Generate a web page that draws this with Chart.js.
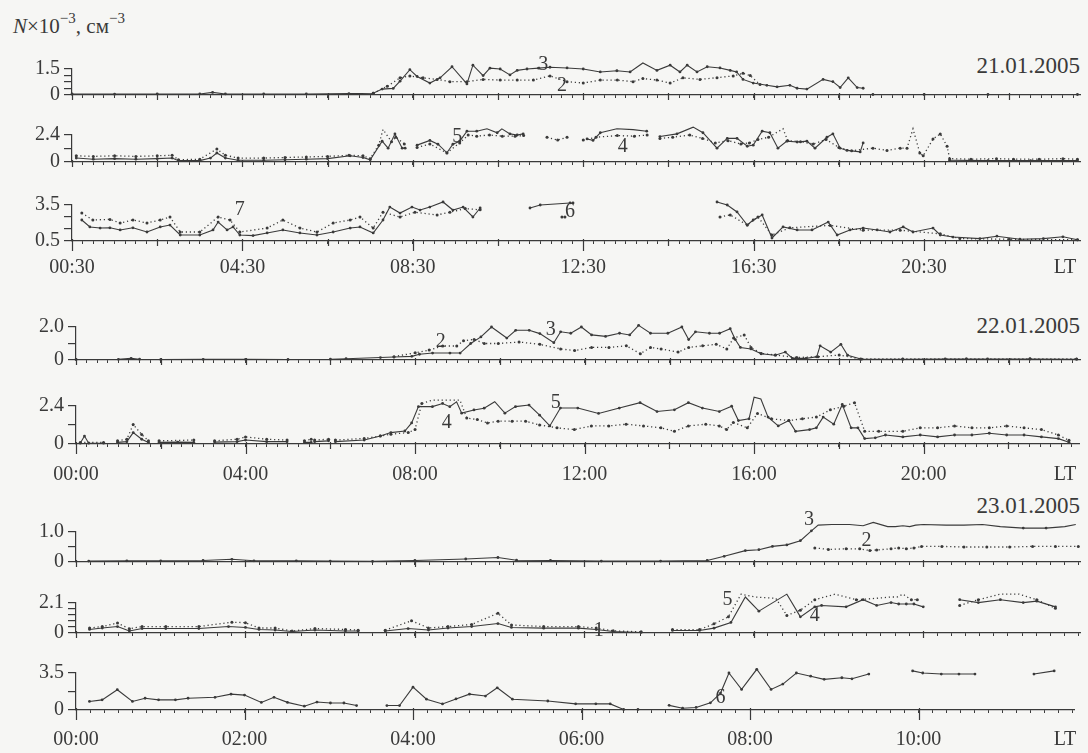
<!DOCTYPE html>
<html>
<head>
<meta charset="utf-8">
<title>N x 10^-3 cm^-3, 21-23.01.2005</title>
<script src="https://cdn.jsdelivr.net/npm/chart.js@4.4.1/dist/chart.umd.min.js"></script>
<style>
  body{margin:0;width:1088px;height:753px;overflow:hidden;position:relative;background:#f6f6f4;
       font-family:"Liberation Serif","DejaVu Serif",serif;color:#3a3a3a;}
  canvas{position:absolute;left:0;}
  .lbl{position:absolute;white-space:nowrap;line-height:1;}
  .date{right:8px;font-size:23px;}
  .sup{position:relative;top:-10px;font-size:15px;}
</style>
</head>
<body>
<div class="lbl" style="left:13px;top:16px;font-size:21px"><i>N</i>×10<span class="sup">−3</span>, см<span class="sup">−3</span></div>
<div class="lbl date" style="top:54px">21.01.2005</div>
<div class="lbl date" style="top:314px">22.01.2005</div>
<div class="lbl date" style="top:494px">23.01.2005</div>
<script>
const ink = '#3a3a3a';
const serif = '"Liberation Serif","DejaVu Serif",serif';

// ---------- 21.01.2005 (hours LT) ----------
const g1aT3 = [0.5,1.5,2.5,3.5,3.8,4.1,5,6,7,7.57,7.78,8.04,8.2,8.43,8.6,8.9,9.14,9.42,9.77,9.91,10.15,10.31,10.55,10.78,10.95,11.18,11.45,11.72,12.12,12.5,12.9,13.29,13.6,13.9,14.23,14.54,14.77,14.94,15.17,15.41,15.71,15.95,16.1,16.25,16.49,16.81,17.05,17.35,17.52,17.75,18.13,18.36,18.53,18.72,18.93,19.07,19.2,19.3,20.5,22,24.1];
const g1aV3 = [0.06,0.05,0.06,0.06,0.15,0.06,0.06,0.06,0.08,0.1,0.34,0.38,0.8,1.46,1.07,0.69,0.99,1.63,0.64,1.72,1.12,1.55,1.5,1.16,1.42,1.5,1.55,1.6,1.56,1.5,1.33,1.4,1.33,1.85,1.42,1.72,1.33,1.72,1.33,1.63,1.56,1.42,1.33,0.9,0.69,0.56,0.47,0.56,0.39,0.34,0.9,0.77,0.43,0.99,0.43,0.39,null,0.03,0.03,0.03,0.03];
const g1aT2 = [7.57,7.9,8.2,8.43,8.74,9.07,9.37,9.77,10.15,10.55,10.95,11.33,11.72,12.12,12.5,12.9,13.3,13.67,13.9,14.23,14.54,14.84,15.24,15.64,16.02,16.25,16.42,16.65];
const g1aV2 = [0.1,0.5,0.99,1.1,0.99,0.9,0.77,0.77,0.9,0.86,0.86,0.86,1.1,0.77,0.69,0.86,0.86,0.77,0.95,0.86,0.69,0.99,0.9,1.0,1.1,1.25,1.12,0.6];

const g1bT5 = [0.6,1.0,1.5,2.0,2.5,2.85,3.0,3.5,3.75,3.9,4.1,4.4,5.0,5.5,6.0,6.5,7.03,7.33,7.5,7.78,7.92,8.08,8.25,8.32,8.45,8.6,8.9,9.09,9.3,9.44,9.6,9.77,10.0,10.24,10.48,10.59,10.78,10.95,11.09,11.8,12.59,12.73,12.9,13.29,13.67,13.99,14.15,14.3,14.7,15.08,15.31,15.64,15.88,16.11,16.35,16.49,16.7,16.88,17.07,17.28,17.52,17.75,17.94,18.22,18.36,18.53,18.69,19.0,19.07,19.5,21.1,22.0,23.0,24.1];
const g1bV5 = [0.35,0.25,0.3,0.25,0.3,0.35,0.12,0.12,0.35,0.8,0.35,0.15,0.15,0.2,0.25,0.3,0.55,0.4,0.2,1.85,1.23,2.5,1.23,1.23,null,1.5,1.92,1.58,0.82,1.58,1.85,2.74,2.74,2.95,2.6,2.95,2.5,2.4,2.5,null,2.05,1.92,2.6,2.95,2.88,2.74,null,2.26,2.5,3.1,2.6,1.23,2.1,2.1,1.4,1.5,2.74,2.6,1.23,1.85,1.78,1.85,1.23,2.2,2.5,1.23,1.03,0.9,1.7,null,0.15,0.12,0.12,0.12];
const g1bT4 = [0.6,1.0,1.5,2.0,2.5,2.85,3.0,3.5,3.9,4.1,4.4,5.0,5.5,6.0,6.5,7.0,7.33,7.5,7.7,7.8,8.0,8.1,8.3,8.45,8.6,8.9,9.3,9.6,9.8,10.0,10.3,10.6,10.9,11.1,11.4,11.65,11.9,12.12,12.3,12.5,12.8,13.3,13.7,14.0,14.15,14.3,14.6,15.0,15.3,15.6,15.9,16.2,16.4,16.6,16.85,17.19,17.3,17.6,17.9,18.2,18.5,18.8,19.3,19.63,19.94,20.1,20.24,20.4,20.48,20.71,20.88,21.04,21.1,21.6,22.2,22.6,23.2,23.76,24.1];
const g1bV4 = [0.55,0.5,0.55,0.5,0.55,0.6,0.2,0.25,1.15,0.6,0.35,0.35,0.4,0.45,0.5,0.6,0.55,0.3,1.5,2.9,1.8,2.2,1.6,null,1.3,1.6,0.8,1.7,2.4,2.3,2.4,2.3,2.3,2.35,null,2.2,1.95,2.2,null,1.95,2.2,2.35,2.3,2.4,null,2.1,2.2,2.4,2.1,1.7,1.9,1.6,1.7,2.0,2.2,2.95,1.9,1.8,1.6,2.0,1.3,1.0,1.23,1.03,1.23,1.23,2.95,0.8,0.55,2.05,2.5,1.4,0.3,0.25,0.3,0.25,0.25,0.3,0.25];

const g1cT6 = [0.73,0.92,1.16,1.39,1.63,1.93,2.26,2.57,2.8,3.04,3.5,3.81,3.93,4.14,4.28,4.44,4.75,5.08,5.45,5.85,6.25,6.63,7.03,7.26,7.57,7.8,7.96,8.2,8.48,8.67,8.9,9.21,9.44,9.68,9.91,10.08,10.6,11.25,11.49,12.19,12.26,14.0,15.64,15.88,16.11,16.35,16.49,16.7,16.93,17.19,17.52,17.87,18.25,18.46,18.76,19.07,19.4,19.7,20.01,20.24,20.71,20.88,21.18,21.81,22.21,22.75,23.3,23.76,24.1];
const g1cV6 = [2.25,1.67,1.58,1.6,1.42,1.6,1.25,1.67,1.83,1.0,1.0,1.42,2.08,1.42,1.67,1.0,0.95,1.17,1.42,1.17,1.0,1.25,1.58,1.67,1.17,2.25,3.33,2.83,3.33,3.08,3.33,3.75,3.08,3.33,2.5,3.25,null,3.25,3.5,3.67,3.67,null,3.75,3.5,2.92,1.83,2.25,2.67,0.75,1.67,1.42,1.42,2.08,1.0,1.42,1.58,1.42,1.25,1.67,1.25,1.58,1.0,0.83,0.7,0.9,0.65,0.7,0.85,0.6];
const g1cT7 = [0.73,0.99,1.39,1.63,1.93,2.26,2.57,2.8,3.04,3.5,3.93,4.21,4.44,5.08,5.45,5.85,6.25,6.63,7.03,7.26,7.57,7.8,8.2,8.55,9.07,9.37,9.73,10.08,11.0,12.0,12.07,14.0,15.71,15.95,16.35,16.6,16.93,17.35,18.3,19.07,19.94,20.88,21.34,22.5,24.1];
const g1cV7 = [2.83,2.25,2.3,2.0,2.25,2.0,2.25,2.5,1.25,1.25,2.5,2.25,1.25,1.58,2.25,1.58,1.25,2.0,2.25,2.5,1.58,2.9,2.5,2.9,2.67,2.9,3.2,3.1,null,2.5,2.5,null,2.5,2.67,1.83,2.5,1.0,1.6,1.8,1.4,1.4,1.1,0.7,0.65,0.6];

// ---------- 22.01.2005 ----------
const g2aT3 = [0,1.0,1.3,1.5,2.0,3.0,4.0,5.0,6.0,6.37,7.18,7.5,7.92,8.1,8.41,8.82,9.06,9.31,9.55,9.8,10.16,10.37,10.69,10.94,11.27,11.43,11.67,11.92,12.16,12.49,12.82,13.06,13.27,13.55,13.96,14.29,14.45,14.61,14.94,15.18,15.43,15.55,15.67,15.92,16.16,16.49,16.73,16.9,17.22,17.47,17.55,17.8,18.04,18.2,18.53,19.5,20.5,21.5,22.5,23.6];
const g2aV3 = [0.03,0.04,0.1,0.05,0.03,0.04,0.04,0.03,0.05,0.08,0.15,0.18,0.22,0.35,0.42,0.42,0.42,1.0,1.4,2.0,1.33,1.8,1.8,1.6,1.05,1.71,1.62,2.0,1.52,1.43,1.62,1.52,2.1,1.62,1.62,2.0,1.24,1.71,1.62,1.62,1.9,1.24,0.76,0.67,0.38,0.29,0.48,0.1,0.1,0.19,0.86,0.48,0.95,0.29,0.05,0.05,0.06,0.06,0.06,0.05];
const g2aT2 = [7.5,8.0,8.33,8.65,8.98,9.14,9.39,9.63,9.96,10.45,10.94,11.43,11.76,12.16,12.57,12.98,13.31,13.55,13.8,14.2,14.45,14.78,15.1,15.35,15.51,15.76,15.92,16.16,16.5,17.0,17.5,18.0,18.5,19.5,21,22.5,23.6];
const g2aV2 = [0.2,0.44,0.6,0.85,0.85,1.17,1.25,1.0,1.0,1.09,0.95,0.67,0.57,0.76,0.76,0.86,0.38,0.76,0.67,0.48,0.76,0.86,0.95,0.67,1.33,1.52,0.76,0.4,0.3,0.15,0.2,0.3,0.06,0.06,0.07,0.07,0.06];

const g2bT5 = [0.1,0.2,0.3,0.65,0.8,0.98,1.2,1.35,1.55,1.71,1.85,1.96,2.4,2.78,3.0,3.27,3.8,4.0,4.5,4.98,5.2,5.39,5.55,5.6,5.63,5.96,6.05,6.12,6.8,7.18,7.43,7.76,7.92,8.08,8.41,8.65,8.82,8.98,9.1,9.39,9.63,9.88,10.12,10.37,10.69,10.94,11.18,11.43,11.84,12.33,12.82,13.31,13.71,14.12,14.45,14.78,15.18,15.47,15.63,15.88,16.0,16.16,16.33,16.57,16.82,16.98,17.31,17.47,17.63,17.88,18.08,18.29,18.45,18.61,18.86,19.1,19.51,19.92,20.33,20.73,21.14,21.55,21.96,22.37,22.78,23.18,23.43];
const g2bV5 = [0.05,0.5,0.05,0.05,null,0.1,0.15,0.72,0.3,0.1,null,0.1,0.12,0.1,null,0.12,0.15,0.25,0.15,0.15,null,0.1,0.1,null,0.15,0.2,null,0.15,0.25,0.51,0.72,0.82,1.33,2.36,2.36,2.56,2.36,2.67,1.95,2.15,2.26,2.67,1.95,2.36,2.46,1.82,1.14,2.27,2.27,1.93,2.27,2.61,2.05,2.16,2.61,2.27,2.05,2.39,1.48,1.59,2.95,2.84,1.7,1.14,1.48,0.8,0.91,1.02,1.7,1.25,2.5,1.02,1.02,0.34,0.39,0.57,0.45,0.57,0.45,0.57,0.57,0.68,0.57,0.57,0.45,0.34,0.11];
const g2bT4 = [0.1,0.65,0.8,0.98,1.2,1.35,1.55,1.71,1.85,1.96,2.78,3.0,3.27,3.8,4.0,4.5,4.98,5.2,5.39,5.55,5.6,5.63,5.96,6.05,6.12,6.8,7.18,7.43,7.84,8.0,8.16,8.41,8.82,9.06,9.22,9.47,9.71,9.96,10.29,10.61,10.94,11.35,11.76,12.16,12.57,12.98,13.39,13.8,14.12,14.45,14.86,15.18,15.35,15.51,15.84,16.08,16.41,16.82,17.14,17.47,17.8,18.12,18.37,18.61,18.94,19.51,19.92,20.33,20.73,21.14,21.55,21.96,22.37,22.78,23.18,23.43];
const g2bV4 = [0.1,0.1,null,0.2,0.3,1.23,0.6,0.2,null,0.2,0.25,null,0.2,0.3,0.45,0.3,0.25,null,0.2,0.3,null,0.25,0.3,null,0.25,0.35,0.5,0.62,0.72,0.92,2.56,2.77,2.77,2.77,1.64,1.54,1.33,1.44,1.44,1.44,1.2,1.02,0.91,1.14,1.14,1.25,1.14,1.02,0.8,1.14,1.25,1.14,0.91,1.36,1.02,1.93,1.59,1.48,1.59,1.7,2.16,2.39,2.61,0.8,0.8,0.8,1.02,1.02,1.14,1.02,1.02,1.14,1.02,0.91,0.57,0.23];

// ---------- 23.01.2005 ----------
const g3aT3 = [0.15,0.6,1.0,1.5,1.84,2.1,2.6,3.0,3.5,4.0,4.6,4.98,5.2,5.6,6.2,6.9,7.45,7.65,7.9,8.06,8.22,8.39,8.55,8.68,8.76,8.92,9.13,9.29,9.41,9.58,9.67,9.76,9.84,9.91,10.0,10.27,10.48,10.7,10.91,11.18,11.45,11.67,11.8];
const g3aV3 = [0.03,0.04,0.04,0.05,0.09,0.04,0.04,0.03,0.02,0.05,0.1,0.15,0.06,0.05,0.03,0.03,0.05,0.19,0.38,0.41,0.52,0.57,0.71,1.04,1.23,1.25,1.25,1.21,1.32,1.18,1.18,1.21,1.18,1.23,1.25,1.23,1.23,1.25,1.18,1.13,1.13,1.18,1.25];
const g3aT2 = [8.72,8.88,9.09,9.25,9.37,9.45,9.62,9.71,9.8,9.89,9.98,10.22,10.48,10.75,11.02,11.29,11.56,11.83];
const g3aV2 = [0.47,0.42,0.44,0.44,0.38,0.4,0.44,0.47,0.44,0.47,0.52,0.52,0.5,0.5,0.5,0.52,0.52,0.52];

const g3bT5 = [0.16,0.31,0.49,0.63,0.78,1.06,1.45,1.8,2.0,2.16,2.35,2.55,2.82,3.18,3.33,3.5,3.65,3.92,4.16,4.39,4.67,4.98,5.14,5.52,5.93,6.14,6.34,6.67,6.85,7.04,7.36,7.53,7.73,7.9,8.06,8.39,8.55,8.72,8.8,9.09,9.29,9.45,9.62,9.71,9.8,9.89,10.0,10.2,10.43,10.65,10.91,11.18,11.34,11.56];
const g3bV5 = [0.25,0.35,0.45,0.14,0.31,0.31,0.31,0.45,0.39,0.25,0.21,0.1,0.21,0.14,0.14,null,0.14,0.31,0.21,0.35,0.45,0.66,0.39,0.34,0.34,0.24,0.1,0.04,null,0.18,0.18,0.34,0.74,2.52,1.53,2.72,1.13,1.83,1.93,1.83,2.33,1.93,2.13,2.03,2.03,2.03,1.83,null,2.33,2.13,2.33,2.13,2.23,1.83];
const g3bT4 = [0.16,0.31,0.49,0.63,0.78,1.06,1.45,1.84,2.0,2.16,2.35,2.55,2.82,3.18,3.33,3.5,3.65,3.96,4.16,4.39,4.67,4.98,5.14,5.52,5.93,6.14,6.34,6.67,6.85,7.04,7.36,7.53,7.7,7.85,8.01,8.26,8.39,8.55,8.72,8.96,9.21,9.45,9.62,9.69,9.76,9.86,9.93,10.1,10.43,10.65,10.91,11.13,11.34,11.56];
const g3bV4 = [0.35,0.45,0.7,0.3,0.45,0.45,0.45,0.76,0.72,0.35,0.35,0.14,0.31,0.25,0.2,null,0.2,0.86,0.35,0.45,0.6,1.38,0.56,0.45,0.45,0.35,0.15,0.08,null,0.24,0.24,0.64,1.13,2.72,2.52,2.43,1.23,1.6,2.33,2.72,2.33,2.43,2.52,2.52,2.72,2.33,2.33,null,1.93,2.33,2.72,2.72,2.33,1.73];

const g3cT6 = [0.16,0.31,0.49,0.67,0.82,0.98,1.18,1.33,1.65,1.84,2.0,2.2,2.35,2.51,2.71,2.86,3.02,3.18,3.33,3.5,3.69,3.84,4.0,4.16,4.35,4.51,4.67,4.86,5.0,5.18,5.6,5.93,6.17,6.34,6.5,6.67,6.85,7.04,7.2,7.36,7.53,7.65,7.75,7.9,8.08,8.25,8.39,8.55,8.72,8.88,9.09,9.21,9.41,9.73,9.93,10.05,10.27,10.48,10.67,11.0,11.37,11.61];
const g3cV6 = [0.81,0.96,1.92,0.81,1.11,0.96,0.96,1.11,1.2,1.5,1.41,0.72,1.2,0.72,0.36,0.75,0.66,0.66,0.42,null,0.42,0.42,2.16,1.02,0.57,1.05,1.5,1.32,2.1,1.02,0.85,0.58,0.58,0.58,0.05,0.05,null,0.44,0.17,0.24,0.68,1.6,3.5,1.95,3.85,1.95,2.45,3.5,3.2,2.9,3.05,2.95,3.4,null,3.7,3.5,3.4,3.4,3.4,null,3.4,3.7];

// ---------- tick labels ----------
const g1XAt = [0.5,4.5,8.5,12.5,16.5,20.5];
const g1XLabels = ['00:30','04:30','08:30','12:30','16:30','20:30'];
const g2XAt = [0,4,8,12,16,20];
const g2XLabels = ['00:00','04:00','08:00','12:00','16:00','20:00'];
const g3XAt = [0,2,4,6,8,10];
const g3XLabels = ['00:00','02:00','04:00','06:00','08:00','10:00'];

const g1aYTicks = [0,0.375,0.75,1.125,1.5], g1aYLabels = ['0','','','','1.5'];
const g1bYTicks = [0,1.2,2.4],             g1bYLabels = ['0','','2.4'];
const g1cYTicks = [0.5,1.5,2.5,3.5],       g1cYLabels = ['0.5','','','3.5'];
const g2aYTicks = [0,1,2],                 g2aYLabels = ['0','','2.0'];
const g2bYTicks = [0,1.2,2.4],             g2bYLabels = ['0','','2.4'];
const g3aYTicks = [0,0.5,1],               g3aYLabels = ['0','','1.0'];
const g3bYTicks = [0,0.42,0.84,1.26,1.68,2.1], g3bYLabels = ['0','','','','','2.1'];
const g3cYTicks = [0,1.75,3.5],            g3cYLabels = ['0','','3.5'];

///////////////////////////////////////////////////////////////

function pts(ts, vs){
    return ts.map((t,i)=>({x:t, y:vs[i]}));
}

function solid(ts, vs){
    return {
        data: pts(ts, vs),
        borderColor: ink, borderWidth: 1.1,
        pointRadius: 1.4, pointBackgroundColor: ink, pointBorderWidth: 0,
        tension: 0, spanGaps: false, clip: false
    };
}

function dotted(ts, vs){
    return Object.assign(solid(ts, vs), {borderDash:[1.2,2.8], borderWidth:1.3, pointRadius:1.5});
}

// long/short ticks on the time axis, curve numbers and "LT"
const axisMarks = {
    id: 'axisMarks',
    afterDraw(chart, args, o){
        const {ctx, chartArea} = chart;
        const xs = chart.scales.x, ys = chart.scales.y;
        ctx.save();
        ctx.strokeStyle = ink;
        ctx.lineWidth = 1.2;
        for (let k = 0; xs.min + k*o.every <= xs.max + 1e-9; k++){
            const v = xs.min + k*o.every;
            const isLong = o.long.some(a => Math.abs(a - v) < 1e-6);
            const px = Math.round(xs.getPixelForValue(v)) + 0.5;
            ctx.beginPath();
            ctx.moveTo(px, chartArea.bottom - 2);
            ctx.lineTo(px, chartArea.bottom + (isLong ? 10 : 5));
            ctx.stroke();
        }
        ctx.fillStyle = ink;
        ctx.font = '20px ' + serif;
        ctx.textAlign = 'center';
        ctx.textBaseline = 'middle';
        o.nums.forEach(n => ctx.fillText(n.s, xs.getPixelForValue(n.t), ys.getPixelForValue(n.v)));
        if (o.ltDy) ctx.fillText('LT', 1065, chartArea.bottom + o.ltDy);
        ctx.restore();
    }
};
Chart.register(axisMarks);

function panel(p){
    const padTop = 28, axisH = p.xLabels ? 48 : 8;
    const cv = document.createElement('canvas');
    cv.width = 1088;
    cv.height = p.bottom - p.top + padTop + axisH;
    cv.style.top = (p.top - padTop) + 'px';
    document.body.appendChild(cv);

    new Chart(cv, {
        type: 'line',
        data: {datasets: p.sets},
        options: {
            responsive: false,
            animation: false,
            devicePixelRatio: 1,
            layout: {padding: {top: padTop, right: 8, left: 0, bottom: 0}},
            plugins: {
                legend: {display: false},
                tooltip: {enabled: false},
                axisMarks: {every: 2, long: p.xLabels ? p.xAt : [], nums: p.nums, ltDy: p.xLabels ? p.labelDy : 0}
            },
            scales: {
                x: {
                    type: 'linear', min: p.xMin, max: p.xMax,
                    afterFit: s => { s.height = axisH; },
                    afterBuildTicks: s => {
                        const t = [];
                        for (let k = 0; p.xMin + k*p.minor <= p.xMax + 1e-9; k++) t.push({value: p.xMin + k*p.minor});
                        s.ticks = t;
                    },
                    border: {color: ink, width: 1.2},
                    grid: {drawOnChartArea: false, tickLength: 3, color: ink, lineWidth: 1},
                    ticks: {
                        autoSkip: false, maxRotation: 0, minRotation: 0,
                        padding: p.xLabels ? p.labelDy - 15 : 0,
                        color: ink, font: {family: serif, size: 20},
                        callback: v => {
                            if (!p.xLabels) return '';
                            const i = p.xAt.findIndex(a => Math.abs(a - v) < 1e-6);
                            return i < 0 ? '' : p.xLabels[i];
                        }
                    }
                },
                y: {
                    min: p.yTicks[0], max: p.yTicks[p.yTicks.length - 1],
                    afterFit: s => { s.width = p.left; },
                    afterBuildTicks: s => { s.ticks = p.yTicks.map(v => ({value: v})); },
                    border: {color: ink, width: 1.2},
                    grid: {drawOnChartArea: false, tickLength: 8, color: ink, lineWidth: 1.2},
                    ticks: {autoSkip: false, padding: 4, color: ink, font: {family: serif, size: 20},
                            callback: (v, i) => p.yLabels[i]}
                }
            }
        }
    });
}

///////////////////////////////////////////////////////////////

const g1 = {left: 72, xMin: 0.5, xMax: 24.16, minor: 0.25};
const g2 = {left: 76, xMin: 0, xMax: 23.68, minor: 0.25};
const g3 = {left: 76, xMin: 0, xMax: 11.85, minor: 1/6};

panel(Object.assign({}, g1, {top: 69, bottom: 103, yTicks: g1aYTicks, yLabels: g1aYLabels,
    sets: [solid(g1aT3, g1aV3), dotted(g1aT2, g1aV2)],
    nums: [{t: 11.56, v: 1.76, s: '3'}, {t: 12.0, v: 0.56, s: '2'}]}));
panel(Object.assign({}, g1, {top: 135, bottom: 170, yTicks: g1bYTicks, yLabels: g1bYLabels,
    sets: [solid(g1bT5, g1bV5), dotted(g1bT4, g1bV4)],
    nums: [{t: 9.54, v: 2.25, s: '5'}, {t: 13.43, v: 1.37, s: '4'}]}));
panel(Object.assign({}, g1, {top: 205, bottom: 241, yTicks: g1cYTicks, yLabels: g1cYLabels,
    sets: [solid(g1cT6, g1cV6), dotted(g1cT7, g1cV7)],
    nums: [{t: 4.44, v: 3.08, s: '7'}, {t: 12.19, v: 2.92, s: '6'}],
    xAt: g1XAt, xLabels: g1XLabels, labelDy: 27}));

panel(Object.assign({}, g2, {top: 327, bottom: 368, yTicks: g2aYTicks, yLabels: g2aYLabels,
    sets: [solid(g2aT3, g2aV3), dotted(g2aT2, g2aV2)],
    nums: [{t: 8.6, v: 1.12, s: '2'}, {t: 11.2, v: 1.85, s: '3'}]}));
panel(Object.assign({}, g2, {top: 406, bottom: 444, yTicks: g2bYTicks, yLabels: g2bYLabels,
    sets: [solid(g2bT5, g2bV5), dotted(g2bT4, g2bV4)],
    nums: [{t: 8.75, v: 1.33, s: '4'}, {t: 11.32, v: 2.6, s: '5'}],
    xAt: g2XAt, xLabels: g2XLabels, labelDy: 31}));

panel(Object.assign({}, g3, {top: 532, bottom: 570, yTicks: g3aYTicks, yLabels: g3aYLabels,
    sets: [solid(g3aT3, g3aV3), dotted(g3aT2, g3aV2)],
    nums: [{t: 8.65, v: 1.41, s: '3'}, {t: 9.33, v: 0.71, s: '2'}]}));
panel(Object.assign({}, g3, {top: 603, bottom: 641, yTicks: g3bYTicks, yLabels: g3bYLabels,
    sets: [solid(g3bT5, g3bV5), dotted(g3bT4, g3bV4)],
    nums: [{t: 7.69, v: 2.33, s: '5'}, {t: 8.72, v: 1.23, s: '4'}, {t: 6.17, v: 0.14, s: '1'}]}));
panel(Object.assign({}, g3, {top: 673, bottom: 710, yTicks: g3cYTicks, yLabels: g3cYLabels,
    sets: [solid(g3cT6, g3cV6)],
    nums: [{t: 7.65, v: 1.16, s: '6'}],
    xAt: g3XAt, xLabels: g3XLabels, labelDy: 30}));
</script>
</body>
</html>
